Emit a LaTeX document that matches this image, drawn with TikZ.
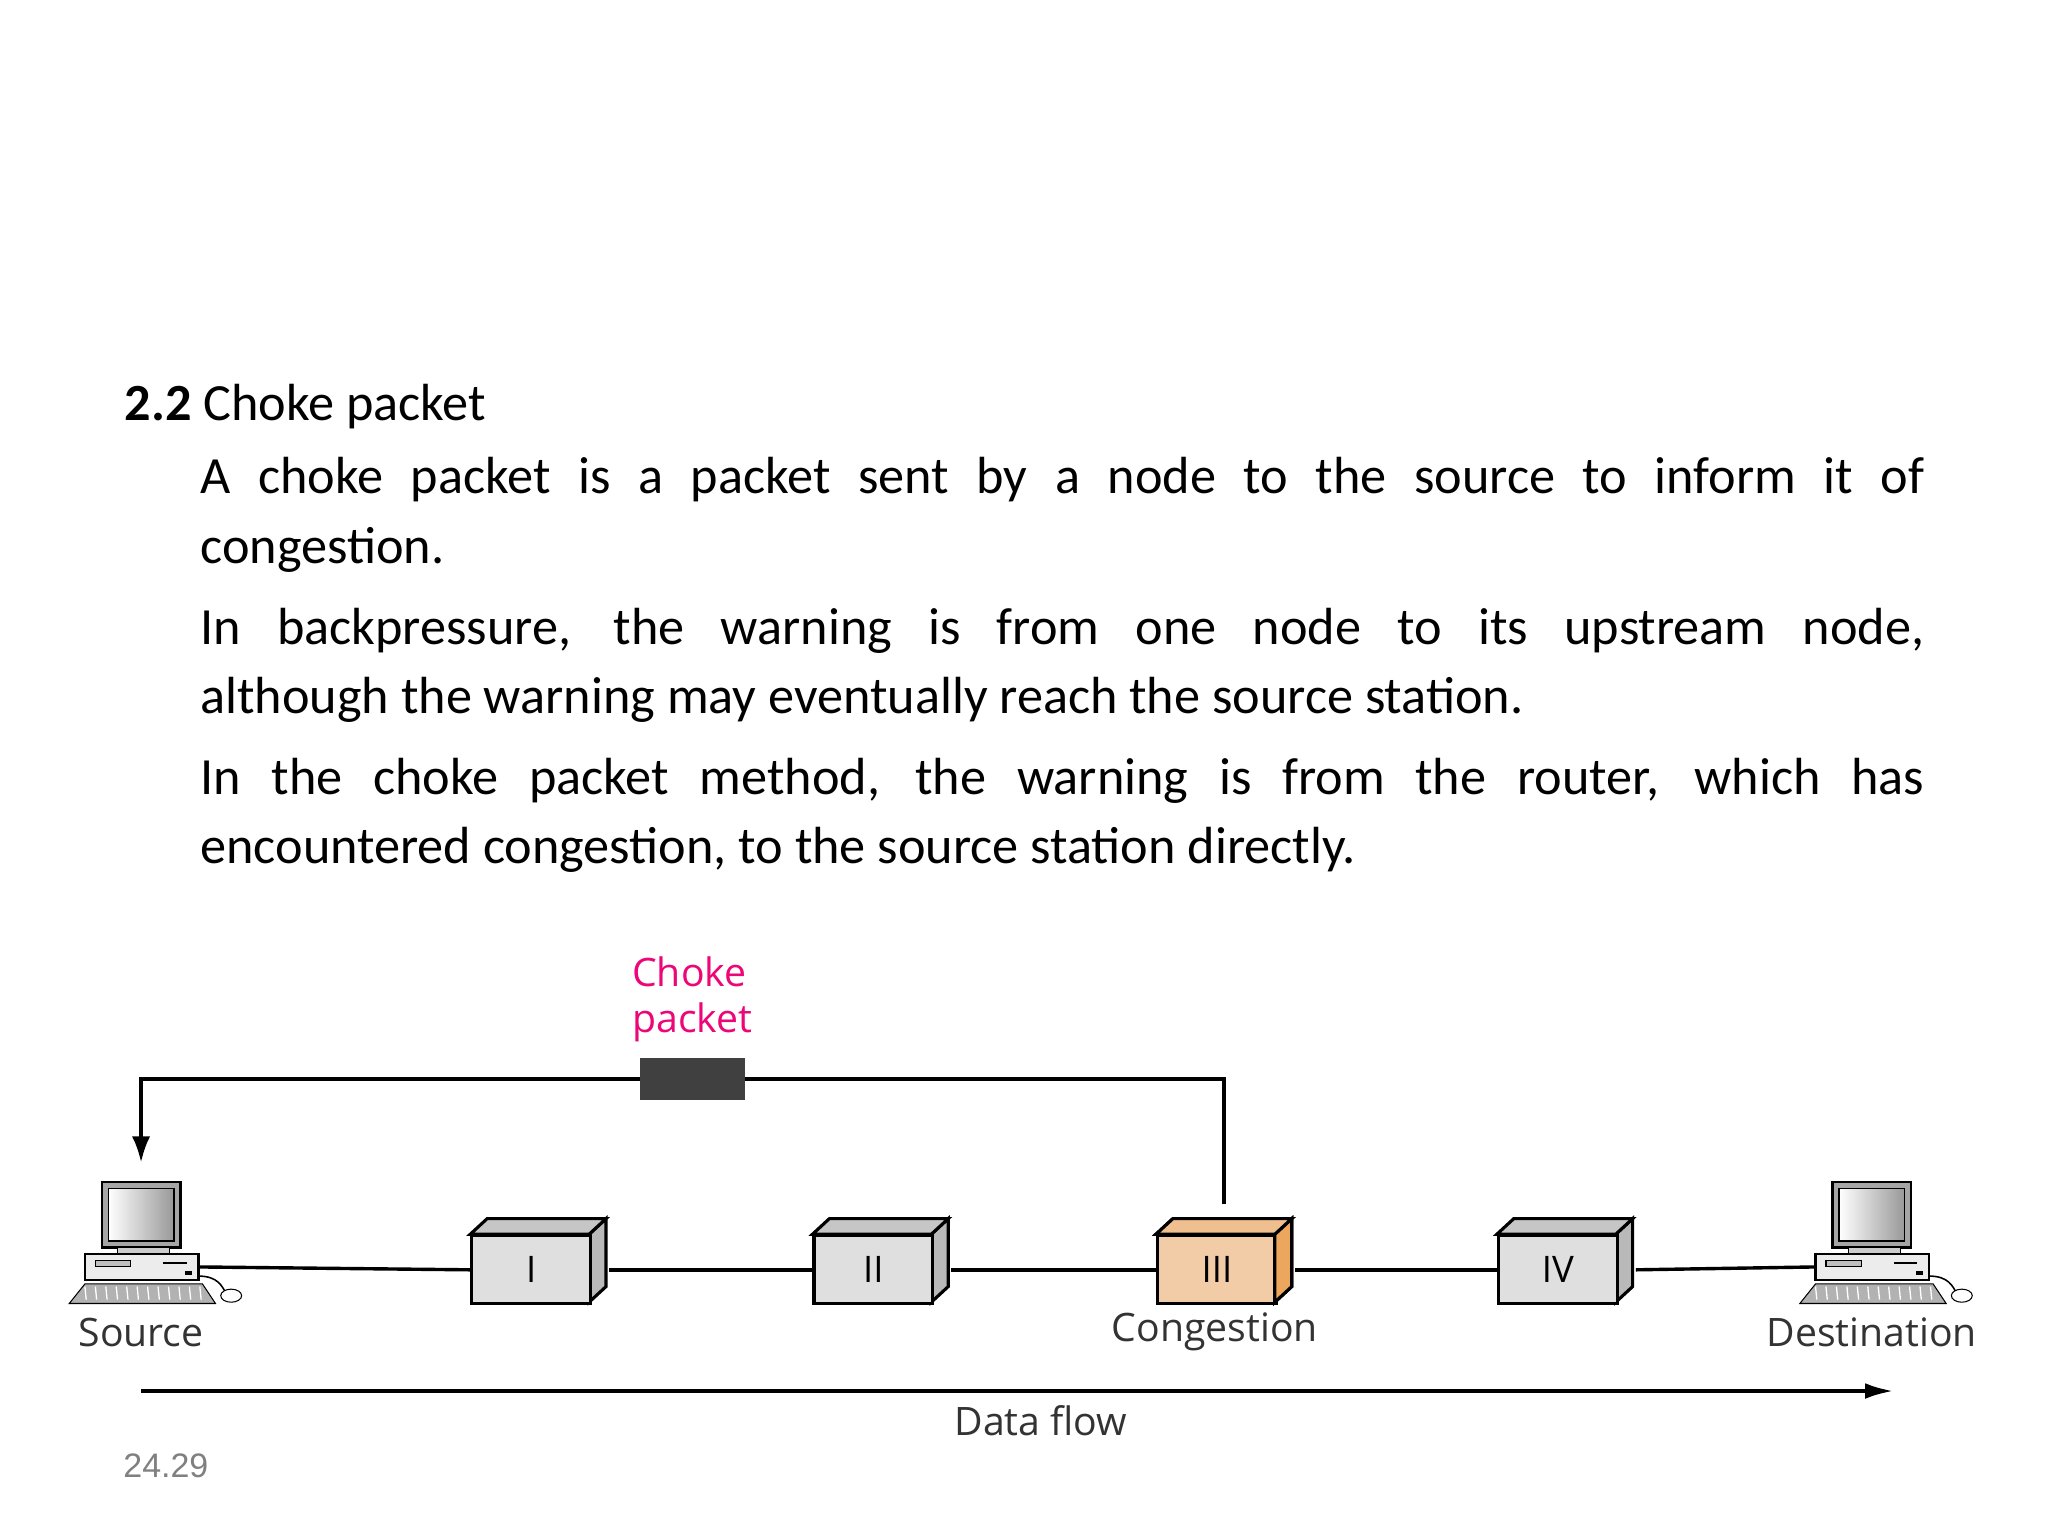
\documentclass[tikz,border=0pt]{standalone}
\usetikzlibrary{arrows.meta}
\usepackage{fontspec}
\setmainfont{Carlito}
\newfontfamily\lab{Open Sans}
\newfontfamily\lib{Liberation Sans}
\begin{document}
\begin{tikzpicture}[x=0.5pt,y=-0.5pt,
  box/.style={draw,line width=1.2pt},
  wire/.style={line width=1.3pt},
  lbl/.style={font=\lab\fontsize{15}{17}\selectfont,text=black!80},
  pics/comp/.style={code={
    \draw[line width=1pt,fill=gray!70] (-37,-50) rectangle (23,0);
    \shade[left color=white,right color=gray!80] (-32,-45) rectangle (18,-5);
    \draw[line width=0.6pt] (-32,-45) rectangle (18,-5);
    \draw[fill=gray!40] (-25,0) rectangle (15,5);
    \draw[line width=0.8pt,fill=gray!15] (-50,5) rectangle (37,25);
    \draw[fill=gray!50] (-42,10) rectangle (-15,15);
    \draw[line width=1pt] (10,12) -- (28,12);
    \fill (27,18) rectangle (32,21);
    \draw[fill=gray!60] (-50,28) -- (40,28) -- (50,43) -- (-62,43) -- cycle;
    \foreach \i in {-50,-42,...,40} \draw[white,line width=0.5pt] (\i,30) -- (\i+1,40);
    \draw[line width=0.6pt] (37,22) .. controls (52,22) and (55,30) .. (58,35);
    \draw[fill=white] (62,37) ellipse (8 and 5);
  }}]
\useasboundingbox (0,0) rectangle (1568,1176);
\fill[white] (0,0) rectangle (1568,1176);
% text
\node[anchor=base west,inner sep=0,font=\fontsize{20}{24}\selectfont] (title) at (95,322) {\textbf{2.2} Choke packet};
\node[anchor=north west,inner sep=0,text width=660pt,align=justify,
  font=\fontsize{20}{26.5}\selectfont] (body) at (153,350) {%
\setlength{\parskip}{4.5pt}%
A choke packet is a packet sent by a node to the source to inform it of\linebreak congestion.\par
In backpressure, the warning is from one node to its upstream node,\linebreak although the warning may eventually reach the source station.\par
In the choke packet method, the warning is from the router, which has\linebreak encountered congestion, to the source station directly.\par};
% computers
\pic (src) at (115,955) {comp};
\pic (dst) at (1440,955) {comp};
\coordinate (s) at (152,970);
\coordinate (d) at (1390,970);
% boxes
\foreach \n/\x/\t/\c in {b1/360/I/gray!25,b2/622/II/gray!25,b3/885/III/orange!45!brown!40!white,b4/1146/IV/gray!25}{
  \draw[box,fill=gray!55] (\x+91,945) -- (\x+104,933) -- (\x+104,985) -- (\x+91,997) -- cycle;
  \draw[box,fill=gray!45] (\x,945) -- (\x+13,933) -- (\x+104,933) -- (\x+91,945) -- cycle;
  \node[box,fill=\c,minimum width=45.5pt,minimum height=26pt,inner sep=0,anchor=north west,
    font=\lab\fontsize{14}{16}\selectfont] (\n) at (\x,945) {\t};
}
\draw[box,fill=orange!60!brown!70] (976,945) -- (989,933) -- (989,985) -- (976,997) -- cycle;
\draw[box,fill=orange!50!brown!50] (885,945) -- (898,933) -- (989,933) -- (976,945) -- cycle;
\draw[wire] (s) -- (b1.west);
\draw[wire] (b1.east) ++(13,0) -- (b2.west);
\draw[wire] (b2.east) ++(13,0) -- (b3.west);
\draw[wire] (b3.east) ++(13,0) -- (b4.west);
\draw[wire] (b4.east) ++(13,0) -- (d);
% choke path
\coordinate (c0) at (937,922);
\coordinate (c1) at (108,890);
\draw[wire,-{Latex[length=10pt,width=7pt]}] (c0) |- (108,826) -- (c1);
\node[fill=black!75,minimum width=40pt,minimum height=16pt,inner sep=0] (cp) at (530,826) {};
\node[font=\lab\fontsize{15}{17.5}\selectfont,text=magenta!80!red,align=left] (cpl) at (530,765) {Choke\\packet};
% labels
\node[lbl] (ls) at (108,1020) {Source};
\node[lbl] (lc) at (930,1020) {Congestion};
\node[lbl] (ld) at (1433,1020) {Destination};
\coordinate (f0) at (108,1065);
\coordinate (f1) at (1450,1065);
\draw[line width=1.6pt,-{Latex[length=11pt,width=6pt]}] (f0) -- (f1);
\node[lbl] (df) at (797,1088) {Data flow};
\node[font=\lib\fontsize{13}{15}\selectfont,text=gray] (pg) at (127,1122) {24.29};
\end{tikzpicture}
\end{document}
